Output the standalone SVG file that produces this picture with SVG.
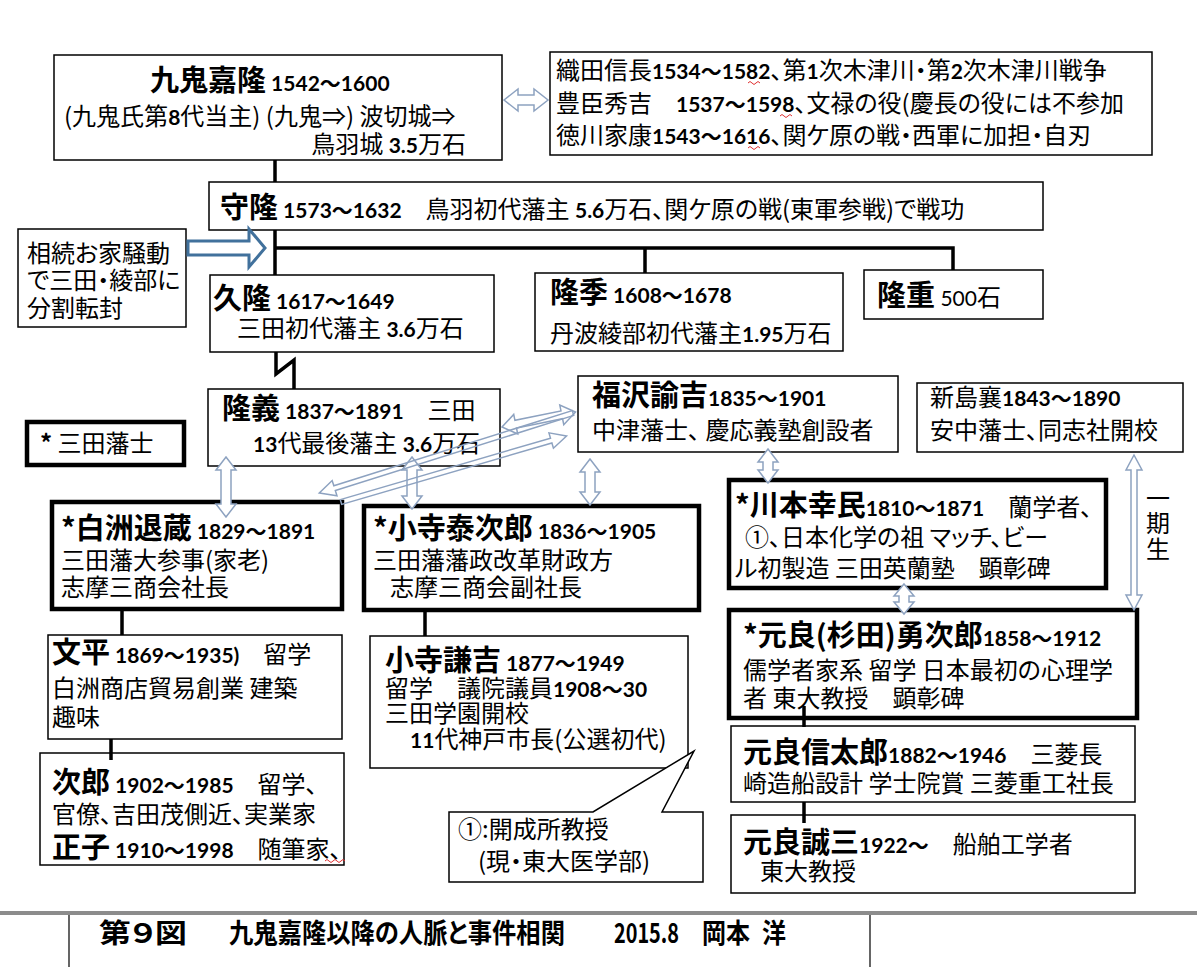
<svg xmlns="http://www.w3.org/2000/svg" width="1197" height="967" viewBox="0 0 1197 967">
<style>
text{font-family:"Noto Sans CJK JP","Noto Sans CJK SC",sans-serif;font-size:24px;fill:#000;font-feature-settings:"palt";}
.nm{font-weight:700;font-size:29px}
.n{font-family:Lato,"Noto Sans CJK JP",sans-serif;font-weight:700;font-size:21px}
.nr{font-family:Lato,"Noto Sans CJK JP",sans-serif;font-weight:400;font-size:21px}
.box{fill:#fff;stroke:#000;stroke-width:1.5}
.tk{fill:#fff;stroke:#000;stroke-width:4.5}
.ln{stroke:#000;stroke-width:3.5;fill:none}
.ar{fill:#fff;stroke:#8da2c0;stroke-width:1.5}
.arl{fill:none;stroke:#8da2c0;stroke-width:1.5}
.bl{fill:#fff;stroke:#41719c;stroke-width:3}
.sq{fill:none;stroke:#e03030;stroke-width:1}
.title{font-weight:700;font-size:27px}
</style>
<rect width="1197" height="967" fill="#fff"/>

<g id="n-kuki"><rect class="box" x="54" y="55" width="448" height="105"/>
<text x="150" y="91"><tspan class="nm">九鬼嘉隆</tspan><tspan class="n"> 1542～1600</tspan></text>
<text x="64" y="125">(九鬼氏第<tspan class="n">8</tspan>代当主) (九鬼⇒) 波切城⇒</text>
<text x="466" y="153" text-anchor="end">鳥羽城 <tspan class="n">3.5</tspan>万石</text></g>

<g id="n-oda"><rect class="box" x="550" y="52" width="602" height="103"/>
<text x="556" y="79">織田信長<tspan class="n">1534～1582</tspan>、第<tspan class="n">1</tspan>次木津川・第<tspan class="n">2</tspan>次木津川戦争</text>
<text x="556" y="112">豊臣秀吉　<tspan class="n">1537～1598</tspan>、文禄の役(慶長の役には不参加</text>
<text x="556" y="144">徳川家康<tspan class="n">1543～1616</tspan>、関ケ原の戦・西軍に加担・自刃</text>
<path class="sq" d="M748,83q2,-3 4,0t4,0t4,0 M780,116q2,-3 4,0t4,0t4,0 M748,148q2,-3 4,0t4,0t4,0"/></g>

<g id="n-moritaka"><rect class="box" x="209" y="182" width="834" height="48"/>
<text x="220" y="218"><tspan class="nm">守隆</tspan><tspan class="n"> 1573～1632</tspan>　鳥羽初代藩主 <tspan class="n">5.6</tspan>万石、関ケ原の戦(東軍参戦)で戦功</text></g>

<g id="n-souzoku"><rect class="box" x="18" y="229" width="168" height="98"/>
<text x="27" y="262">相続お家騒動</text>
<text x="27" y="289">で三田・綾部に</text>
<text x="27" y="317">分割転封</text></g>

<g id="n-hisataka"><rect class="box" x="210" y="275" width="284" height="77"/>
<text x="213" y="309"><tspan class="nm">久隆</tspan><tspan class="n"> 1617～1649</tspan></text>
<text x="237" y="337">三田初代藩主 <tspan class="n">3.6</tspan>万石</text></g>

<g id="n-takasue"><rect class="box" x="535" y="273" width="308" height="78"/>
<text x="550" y="303"><tspan class="nm">隆季</tspan><tspan class="n"> 1608～1678</tspan></text>
<text x="550" y="342">丹波綾部初代藩主<tspan class="n">1.95</tspan>万石</text></g>

<g id="n-takashige"><rect class="box" x="864" y="270" width="179" height="49"/>
<text x="877" y="306"><tspan class="nm">隆重</tspan> <tspan class="nr">500</tspan>石</text></g>

<g id="n-takayoshi"><rect class="box" x="208" y="389" width="292" height="77"/>
<text x="222" y="419"><tspan class="nm">隆義</tspan><tspan class="n"> 1837～1891</tspan>　三田</text>
<text x="253" y="452"><tspan class="n">13</tspan>代最後藩主 <tspan class="n">3.6</tspan>万石</text></g>

<g id="n-legend"><rect class="tk" x="27" y="422" width="157" height="43"/>
<text x="40" y="452"><tspan font-weight="700">*</tspan> 三田藩士</text></g>

<g id="n-fukuzawa"><rect class="box" x="578" y="376" width="320" height="76"/>
<text x="592" y="406"><tspan class="nm">福沢諭吉</tspan><tspan class="n">1835～1901</tspan></text>
<text x="592" y="439">中津藩士、 慶応義塾創設者</text></g>

<g id="n-niijima"><rect class="box" x="917" y="383" width="266" height="69"/>
<text x="930" y="406">新島襄<tspan class="n">1843～1890</tspan></text>
<text x="930" y="439">安中藩士、同志社開校</text></g>

<g id="n-shirasu"><rect class="tk" x="52" y="502" width="290" height="107"/>
<text x="61" y="539"><tspan class="nm">*白洲退蔵</tspan><tspan class="n"> 1829～1891</tspan></text>
<text x="61" y="569">三田藩大参事(家老)</text>
<text x="61" y="596">志摩三商会社長</text></g>

<g id="n-kodera"><rect class="tk" x="364" y="506" width="335" height="104"/>
<text x="373" y="539"><tspan class="nm">*小寺泰次郎</tspan><tspan class="n"> 1836～1905</tspan></text>
<text x="373" y="569">三田藩藩政改革財政方</text>
<text x="390" y="596">志摩三商会副社長</text></g>

<g id="n-kawamoto"><rect class="tk" x="729" y="480" width="377" height="108"/>
<text x="735" y="516"><tspan class="nm">*川本幸民</tspan><tspan class="n">1810～1871</tspan>　蘭学者、</text>
<text x="745" y="546">①、日本化学の祖 マッチ、ビー</text>
<text x="735" y="577">ル初製造 三田英蘭塾　顕彰碑</text></g>

<g id="n-motora"><rect class="tk" x="729" y="610" width="408" height="108"/>
<text x="743" y="646"><tspan class="nm">*元良(杉田)勇次郎</tspan><tspan class="n">1858～1912</tspan></text>
<text x="743" y="679">儒学者家系 留学 日本最初の心理学</text>
<text x="743" y="707">者 東大教授　顕彰碑</text></g>

<g id="n-shintaro"><rect class="box" x="731" y="726" width="404" height="76"/>
<text x="743" y="763"><tspan class="nm">元良信太郎</tspan><tspan class="n">1882～1946</tspan>　三菱長</text>
<text x="743" y="792">崎造船設計 学士院賞 三菱重工社長</text></g>

<g id="n-seizo"><rect class="box" x="731" y="815" width="404" height="78"/>
<text x="743" y="853"><tspan class="nm">元良誠三</tspan><tspan class="n">1922～</tspan>　船舶工学者</text>
<text x="760" y="880">東大教授</text></g>

<g id="n-bunpei"><rect class="box" x="48" y="635" width="294" height="104"/>
<text x="52" y="663"><tspan class="nm">文平</tspan><tspan class="n"> 1869～1935)</tspan>　留学</text>
<text x="52" y="697">白洲商店貿易創業 建築</text>
<text x="52" y="726">趣味</text></g>

<g id="n-jiro"><rect class="box" x="40" y="753" width="304" height="112"/>
<text x="52" y="793"><tspan class="nm">次郎</tspan><tspan class="n"> 1902～1985</tspan>　留学、</text>
<text x="52" y="823">官僚、吉田茂側近、実業家</text>
<text x="52" y="858"><tspan class="nm">正子</tspan><tspan class="n"> 1910～1998</tspan>　随筆家、</text>
<path class="sq" d="M325,861q2,-3 4,0t4,0t4,0t4,0t4,0"/></g>

<g id="n-kenkichi"><rect class="box" x="370" y="636" width="318" height="132"/>
<text x="385" y="671"><tspan class="nm">小寺謙吉</tspan><tspan class="n"> 1877～1949</tspan></text>
<text x="385" y="697">留学　議院議員<tspan class="n">1908～30</tspan></text>
<text x="385" y="722">三田学園開校</text>
<text x="410" y="748"><tspan class="n">11</tspan>代神戸市長(公選初代)</text></g>

<g id="n-callout"><path class="box" d="M449,812H593L694,751L662,812H703V882H449Z"/>
<text x="458" y="838">①:開成所教授</text>
<text x="478" y="870">(現・東大医学部)</text></g>

<g id="connectors">
<path class="ln" d="M275,160V182 M275,230V275 M275,248H953V270 M645,248V273 M276,352V374L294,360V389 M122,609V635 M111,739V760 M425,610V636 M804,706V727 M804,802V823"/>
<polygon class="bl" points="188,241 249,241 249,229 265,248 249,267 249,255 188,255"/>
<path class="ar" transform="translate(504,100)" d="M0,0L14,-11V-5H30V-11L44,0L30,11V5H14V11Z"/>
<path class="ar" transform="translate(226,457) rotate(90)" d="M0,0L13,-10V-5H47V-10L60,0L47,10V5H13V10Z"/>
<path class="ar" transform="translate(412,457) rotate(90)" d="M0,0L13,-10V-5H39V-10L52,0L39,10V5H13V10Z"/>
<path class="ar" transform="translate(590,459) rotate(90)" d="M0,0L13,-10V-5H33V-10L46,0L33,10V5H13V10Z"/>
<path class="ar" transform="translate(768,449) rotate(90)" d="M0,0L13,-10V-5H21V-10L34,0L21,10V5H13V10Z"/>
<path class="ar" transform="translate(904,584) rotate(90)" d="M0,0L12,-10V-5H18V-10L30,0L18,10V5H12V10Z"/>
<path class="ar" transform="translate(1134,455) rotate(90)" d="M0,0L15,-8V-3H140V-8L155,0L140,8V3H15V8Z"/>
<path class="arl" transform="translate(573,413) rotate(162.5)" d="M0,-2.5H250V-8L266,0L250,8V2.5H0Z"/>
<path class="arl" transform="translate(341,502) rotate(-16.3)" d="M0,-2.5H219V-8L235,0L219,8V2.5H0Z"/>
<path class="arl" transform="translate(502,427) rotate(-11.5)" d="M0,0L14,-10V-4H61V-10L75,0L61,10V4H14V10Z"/>
</g>
<text id="t-ikkisei" text-anchor="middle"><tspan x="1158" y="507">一</tspan><tspan x="1158" y="532">期</tspan><tspan x="1158" y="558">生</tspan></text>

<g id="footer">
<rect x="0" y="911" width="1197" height="4" fill="#8c8c8c"/>
<path d="M69,915V967M870,915V967" stroke="#000" stroke-width="1.2"/>
<text class="title" x="99" y="943" textLength="88" lengthAdjust="spacingAndGlyphs">第９図</text>
<text class="title" x="229" y="943" textLength="336" lengthAdjust="spacingAndGlyphs">九鬼嘉隆以降の人脈と事件相関</text>
<text class="title" x="614" y="943" textLength="65" lengthAdjust="spacingAndGlyphs">2015.8</text>
<text class="title" x="702" y="943" textLength="48" lengthAdjust="spacingAndGlyphs">岡本</text>
<text class="title" x="762" y="943" textLength="24" lengthAdjust="spacingAndGlyphs">洋</text>
</g>
</svg>
